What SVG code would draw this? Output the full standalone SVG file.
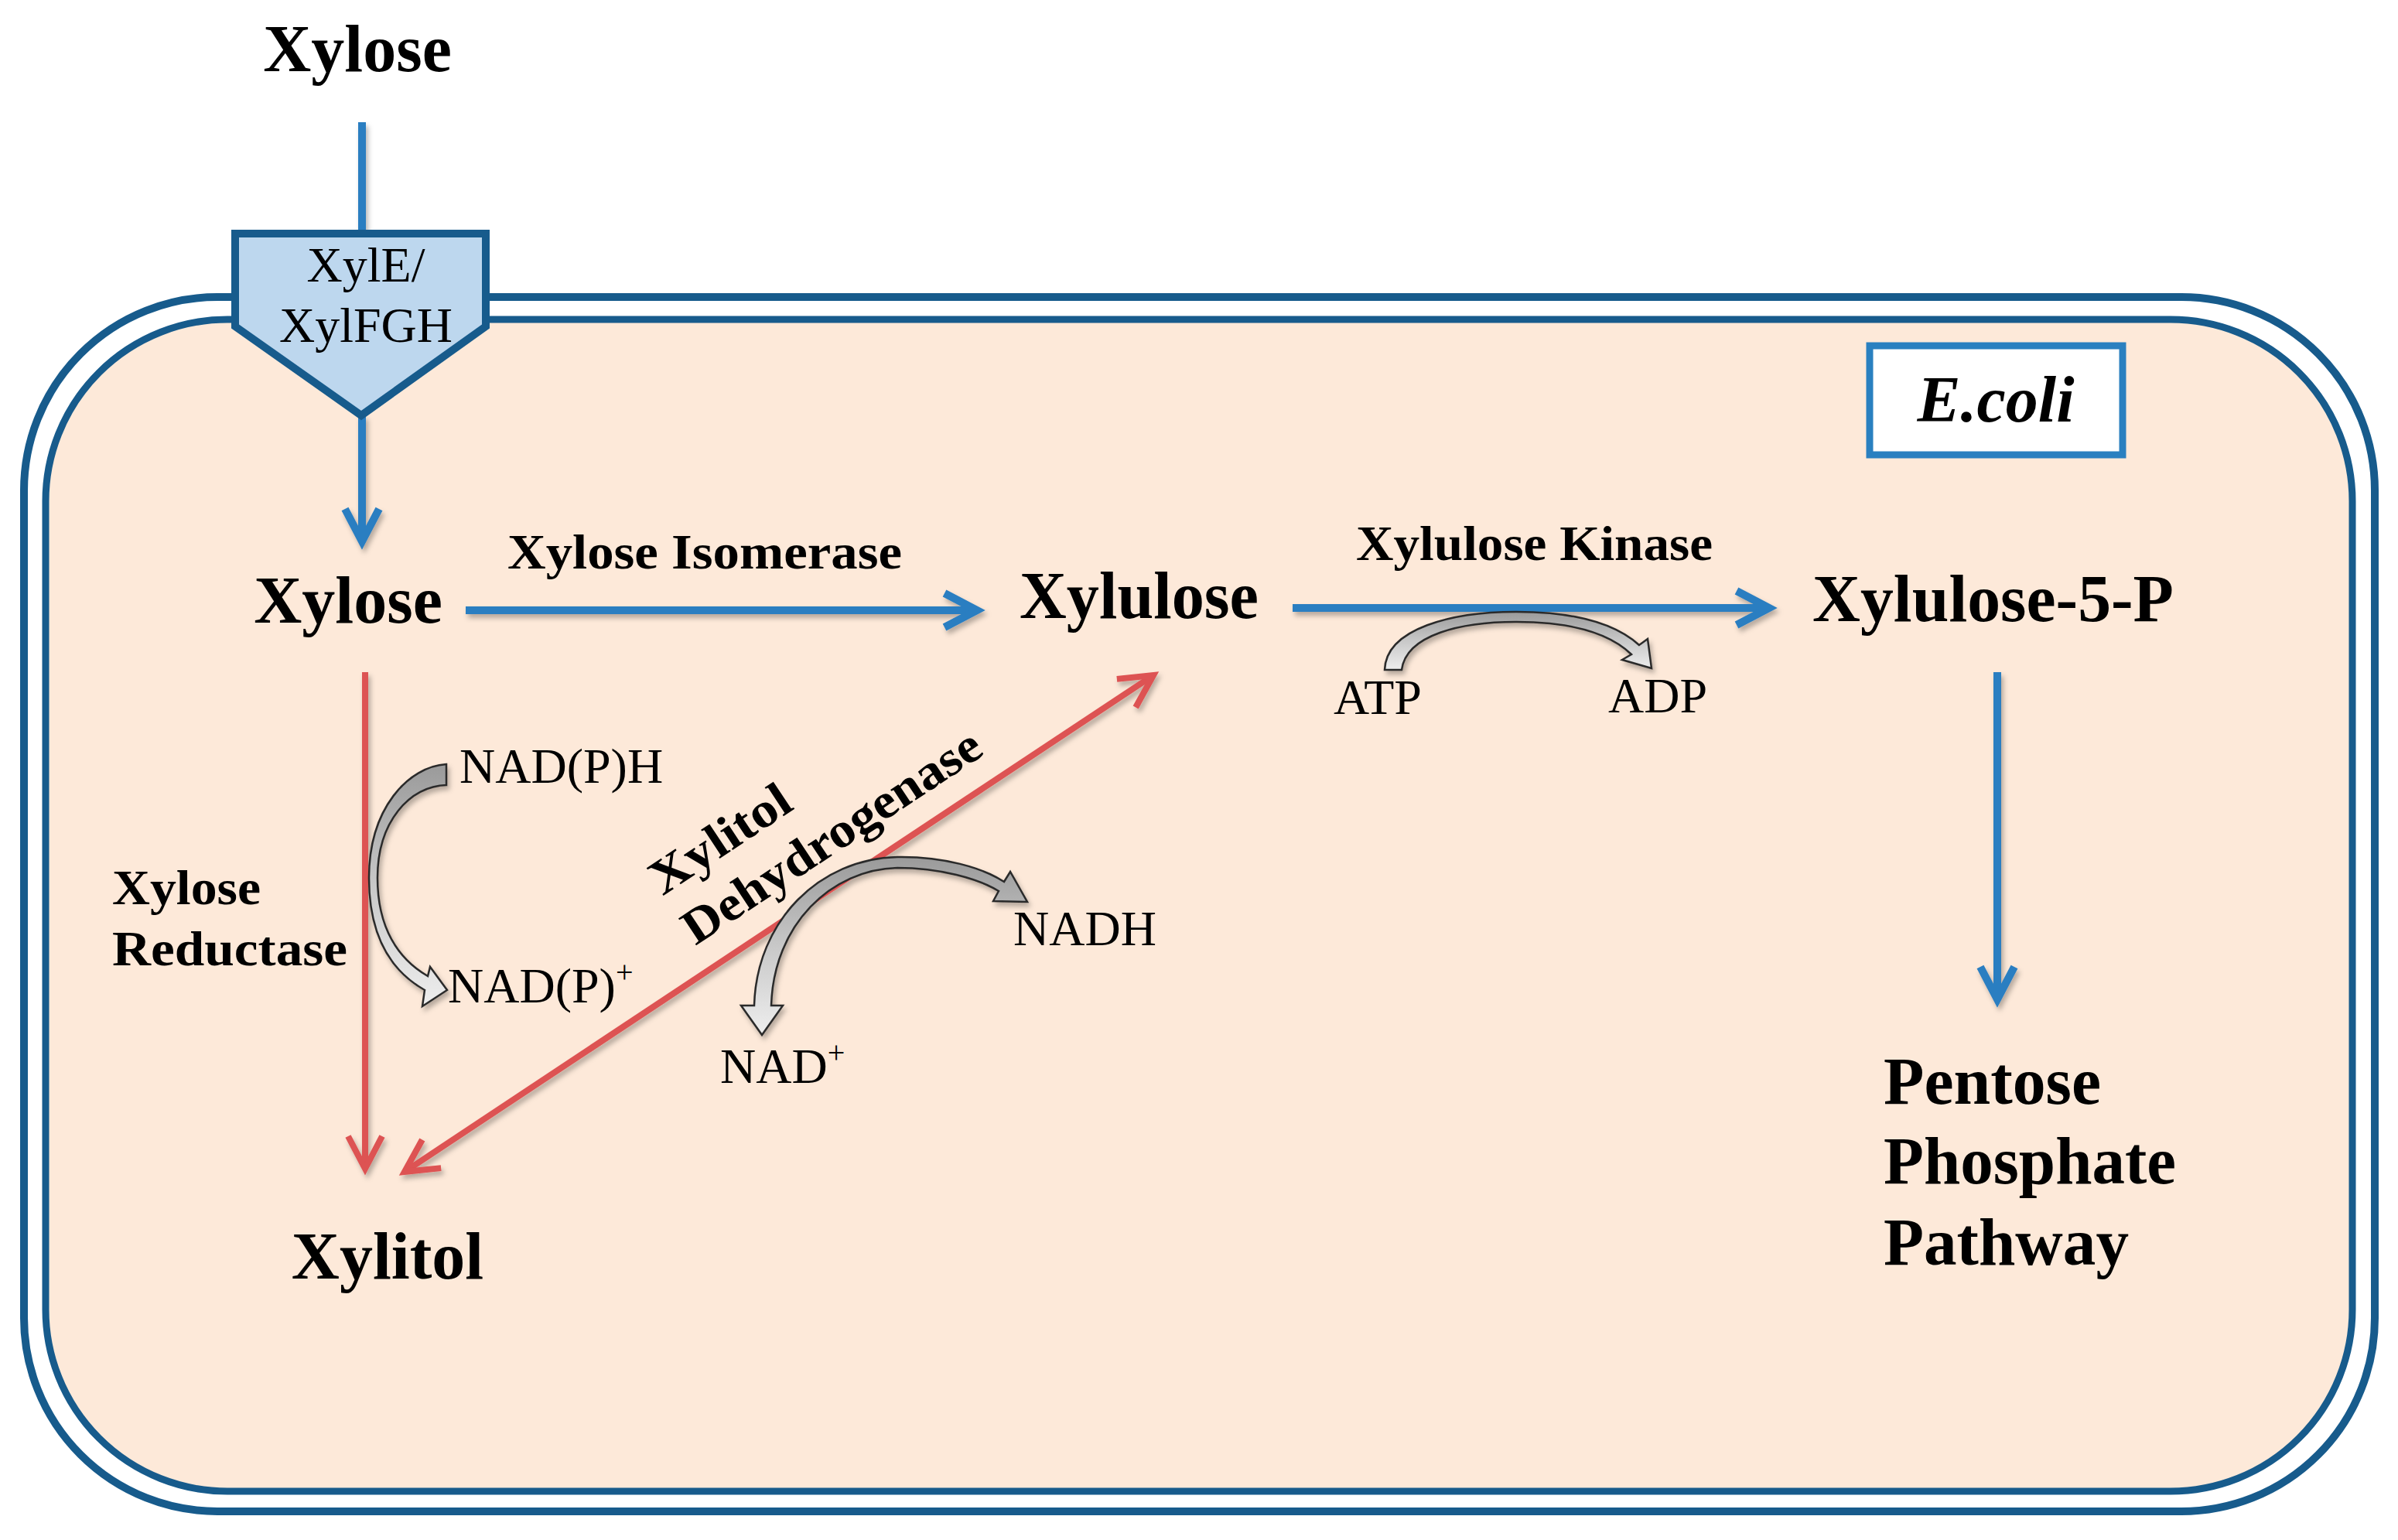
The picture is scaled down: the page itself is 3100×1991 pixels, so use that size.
<svg xmlns="http://www.w3.org/2000/svg" width="3100" height="1991" viewBox="0 0 3100 1991">
<style>
text{font-family:"Liberation Serif","Times New Roman",serif;fill:#000}
.main{font-size:86px;font-weight:bold}
.enz{font-size:64px;font-weight:bold}
.reg{font-size:64px}
.sup{font-size:40px}
.blue{fill:none;stroke:#2B7EC1;stroke-width:10}
.red{fill:none;stroke:#DD5252;stroke-width:8}
.gray{fill:url(#gg);stroke:#2b2b2b;stroke-width:2.5;stroke-linejoin:miter}
</style>
<defs>
<linearGradient id="gg" x1="0" y1="0" x2="0" y2="1">
<stop offset="0" stop-color="#9a9a9a"/>
<stop offset="0.5" stop-color="#c8c8c8"/>
<stop offset="1" stop-color="#eeeeee"/>
</linearGradient>
<filter id="sh" x="-20%" y="-20%" width="140%" height="140%">
<feDropShadow dx="3" dy="5" stdDeviation="3" flood-color="#000" flood-opacity="0.28"/>
</filter>
<marker id="hb" markerUnits="userSpaceOnUse" markerWidth="10" markerHeight="10" refX="0" refY="0" orient="auto" style="overflow:visible">
<path d="M-42,-22 L0,0 L-42,22" fill="none" stroke="#2B7EC1" stroke-width="10"/>
</marker>
<marker id="hr" markerUnits="userSpaceOnUse" markerWidth="10" markerHeight="10" refX="0" refY="0" orient="auto-start-reverse" style="overflow:visible">
<path d="M-42,-22 L0,0 L-42,22" fill="none" stroke="#DD5252" stroke-width="8"/>
</marker>
</defs>
<rect width="3100" height="1991" fill="#fff"/>
<g id="cell">
<rect x="31" y="384" width="3039" height="1570" rx="250" ry="250" fill="#fff" stroke="#175B8C" stroke-width="10"/>
<rect x="59" y="413" width="2982" height="1515" rx="235" ry="235" fill="#FDE9D9" stroke="#175B8C" stroke-width="9"/>
</g>
<g id="ecoli-label">
<rect x="2417" y="447" width="327" height="141" fill="#fff" stroke="#2A80C0" stroke-width="9"/>
<text x="2580" y="545" font-size="84" font-weight="bold" font-style="italic" text-anchor="middle">E.coli</text>
</g>
<g id="connectors" filter="url(#sh)">
<line class="blue" x1="468" y1="158" x2="468" y2="302"/>
<line class="blue" x1="468" y1="537" x2="468" y2="700" marker-end="url(#hb)"/>
<line class="blue" x1="602" y1="789" x2="1263" y2="789" marker-end="url(#hb)"/>
<line class="blue" x1="1671" y1="786" x2="2287" y2="786" marker-end="url(#hb)"/>
<line class="blue" x1="2582" y1="869" x2="2582" y2="1292" marker-end="url(#hb)"/>
<line class="red" x1="472" y1="869" x2="472" y2="1511" marker-end="url(#hr)"/>
<line class="red" x1="523" y1="1515" x2="1491" y2="873" marker-start="url(#hr)" marker-end="url(#hr)"/>
<path id="cof-nadph" class="gray" d="M577,988 C528,991 477,1045 477,1135 C477,1210 505,1255 549,1280 L546,1301 L578,1280 L556,1250 L553,1262 C515,1240 488,1200 488,1135 C488,1062 530,1016 577,1015 Z"/>
<path id="cof-nad" class="gray" d="M975,1300 C978,1190 1060,1110 1160,1108 C1220,1107 1270,1122 1298,1140 L1306,1127 L1328,1166 L1284,1165 L1291,1152 C1265,1136 1215,1122 1160,1122 C1075,1124 1000,1195 997,1300 L1012,1300 L985,1338 L958,1300 Z"/>
<path id="cof-atp" class="gray" d="M1790,866 C1792,812 1878,791 1960,791 C2035,791 2088,806 2119,834 L2130,826 L2135,864 L2097,853 L2109,846 C2080,818 2030,804 1960,804 C1890,804 1818,820 1812,866 Z"/>
</g>
<g id="transporter">
<polygon points="304,302 628,302 628,422 467,537 304,422" fill="#BDD7EE" stroke="#175B8C" stroke-width="10" stroke-linejoin="miter"/>
<text class="reg" x="473" y="364" text-anchor="middle">XylE/</text>
<text class="reg" x="473" y="442" text-anchor="middle">XylFGH</text>
</g>
<g id="xylose-out"><text class="main" x="462" y="92" text-anchor="middle">Xylose</text></g>
<g id="xylose-in"><text class="main" x="450" y="805" text-anchor="middle">Xylose</text></g>
<g id="xylulose"><text class="main" x="1318" y="799" textLength="309" lengthAdjust="spacingAndGlyphs">Xylulose</text></g>
<g id="xylulose-5-p"><text class="main" x="2343" y="803" textLength="467" lengthAdjust="spacingAndGlyphs">Xylulose-5-P</text></g>
<g id="xylitol"><text class="main" x="501" y="1653" text-anchor="middle">Xylitol</text></g>
<g id="ppp">
<text class="main" x="2435" y="1427" font-size="80" textLength="281" lengthAdjust="spacingAndGlyphs">Pentose</text>
<text class="main" x="2435" y="1530" font-size="80" textLength="378" lengthAdjust="spacingAndGlyphs">Phosphate</text>
<text class="main" x="2435" y="1635" font-size="80" textLength="317" lengthAdjust="spacingAndGlyphs">Pathway</text>
</g>
<g id="enzyme-isomerase"><text class="enz" x="656" y="735" textLength="510" lengthAdjust="spacingAndGlyphs">Xylose Isomerase</text></g>
<g id="enzyme-kinase"><text class="enz" x="1753" y="724" textLength="461" lengthAdjust="spacingAndGlyphs">Xylulose Kinase</text></g>
<g id="enzyme-reductase">
<text class="enz" x="145" y="1169" textLength="192" lengthAdjust="spacingAndGlyphs">Xylose</text>
<text class="enz" x="145" y="1248" textLength="304" lengthAdjust="spacingAndGlyphs">Reductase</text>
</g>
<g id="enzyme-dehydrogenase" transform="translate(899,1223) rotate(-33.5)">
<text class="enz" x="0" y="-77" textLength="206" lengthAdjust="spacingAndGlyphs">Xylitol</text>
<text class="enz" x="0" y="0" textLength="450" lengthAdjust="spacingAndGlyphs">Dehydrogenase</text>
</g>
<g id="cofactors">
<text class="reg" x="594" y="1012">NAD(P)H</text>
<text class="reg" x="579" y="1296">NAD(P)<tspan class="sup" dy="-26">+</tspan></text>
<text class="reg" x="1310" y="1222">NADH</text>
<text class="reg" x="931" y="1400">NAD<tspan class="sup" dy="-26">+</tspan></text>
<text class="reg" x="1724" y="923">ATP</text>
<text class="reg" x="2079" y="921">ADP</text>
</g>
</svg>
